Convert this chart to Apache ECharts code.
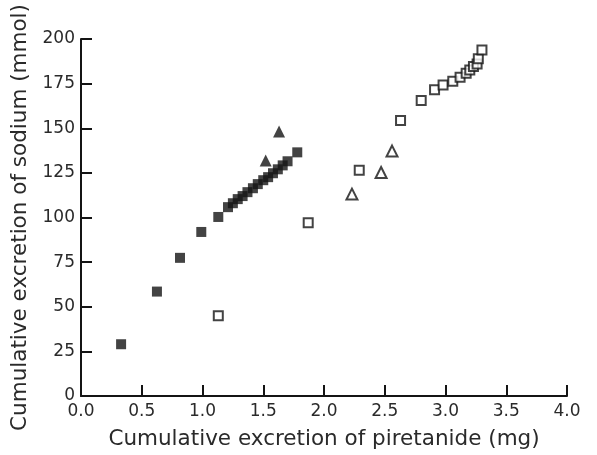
<!DOCTYPE html>
<html><head><meta charset="utf-8">
<script src="https://cdn.jsdelivr.net/npm/echarts@6/dist/echarts.min.js"></script>
<style>html,body{margin:0;padding:0;background:#fff}#c{width:597px;height:455px}</style>
</head><body><div id="c"></div>
<script>
// Data (x: piretanide mg, y: sodium mmol)
const filledSquares = [
  [0.33,29.0],[0.625,58.5],[0.815,77.4],[0.99,91.9],[1.13,100.3],
  [1.21,105.8],[1.25,108.0],[1.29,110.3],[1.33,112.0],[1.37,114.2],
  [1.415,116.4],[1.455,118.7],[1.50,120.9],[1.54,122.6],[1.58,124.8],
  [1.62,127.0],[1.66,129.2],[1.70,131.5],[1.78,136.5]
];
const filledTriangles = [[1.52,132.0],[1.63,148.2]];
const openSquares = [
  [1.13,45.0],[1.87,97.0],[2.29,126.5],[2.63,154.3],[2.80,165.5],
  [2.91,171.6],[2.98,174.2],[3.06,176.4],[3.12,178.6],[3.17,180.8],
  [3.20,182.7],[3.23,184.6],[3.26,186.0],[3.27,188.9],[3.30,193.9]
];
const openTriangles = [[2.23,113.1],[2.47,125.2],[2.56,137.2]];
const xTicks = {min:0, max:4, interval:0.5};
const yTicks = {min:0, max:200, interval:25};

const ink = '#141414';
const font = '"DejaVu Sans", "Liberation Sans", Arial, sans-serif';
const chart = echarts.init(document.getElementById('c'), null, {renderer:'canvas'});
const axisCommon = {
  axisLine:{show:true, onZero:false, lineStyle:{color:ink, width:2}},
  axisTick:{show:true, inside:true, length:11, lineStyle:{color:ink, width:2}},
  splitLine:{show:false},
  axisLabel:{color:'#2a2a2a', fontSize:17, fontFamily:font},
  nameLocation:'middle',
  nameTextStyle:{color:'#2a2a2a', fontSize:21.5, fontFamily:font}
};
chart.setOption({
  backgroundColor:'#fff',
  animation:false,
  grid:{left:81, right:30, top:39, bottom:57, containLabel:false},
  xAxis:Object.assign({}, axisCommon, {
    type:'value', min:xTicks.min, max:xTicks.max, interval:xTicks.interval,
    name:'Cumulative excretion of piretanide (mg)', nameGap:32,
    axisLabel:Object.assign({}, axisCommon.axisLabel, {margin:7, formatter:v=>v.toFixed(1)})
  }),
  yAxis:Object.assign({}, axisCommon, {
    type:'value', min:yTicks.min, max:yTicks.max, interval:yTicks.interval,
    name:'Cumulative excretion of sodium (mmol)', nameGap:45,
    axisLabel:Object.assign({}, axisCommon.axisLabel, {margin:6})
  }),
  series:[
    {type:'scatter', data:filledSquares, symbol:'rect', symbolSize:10,
     itemStyle:{color:ink}},
    {type:'scatter', data:filledTriangles, symbol:'triangle', symbolSize:12,
     itemStyle:{color:ink}},
    {type:'scatter', data:openSquares, symbol:'rect', symbolSize:9,
     itemStyle:{color:'#fff', borderColor:ink, borderWidth:2}},
    {type:'scatter', data:openTriangles, symbol:'triangle', symbolSize:11,
     itemStyle:{color:'#fff', borderColor:ink, borderWidth:2}}
  ]
});
</script></body></html>
